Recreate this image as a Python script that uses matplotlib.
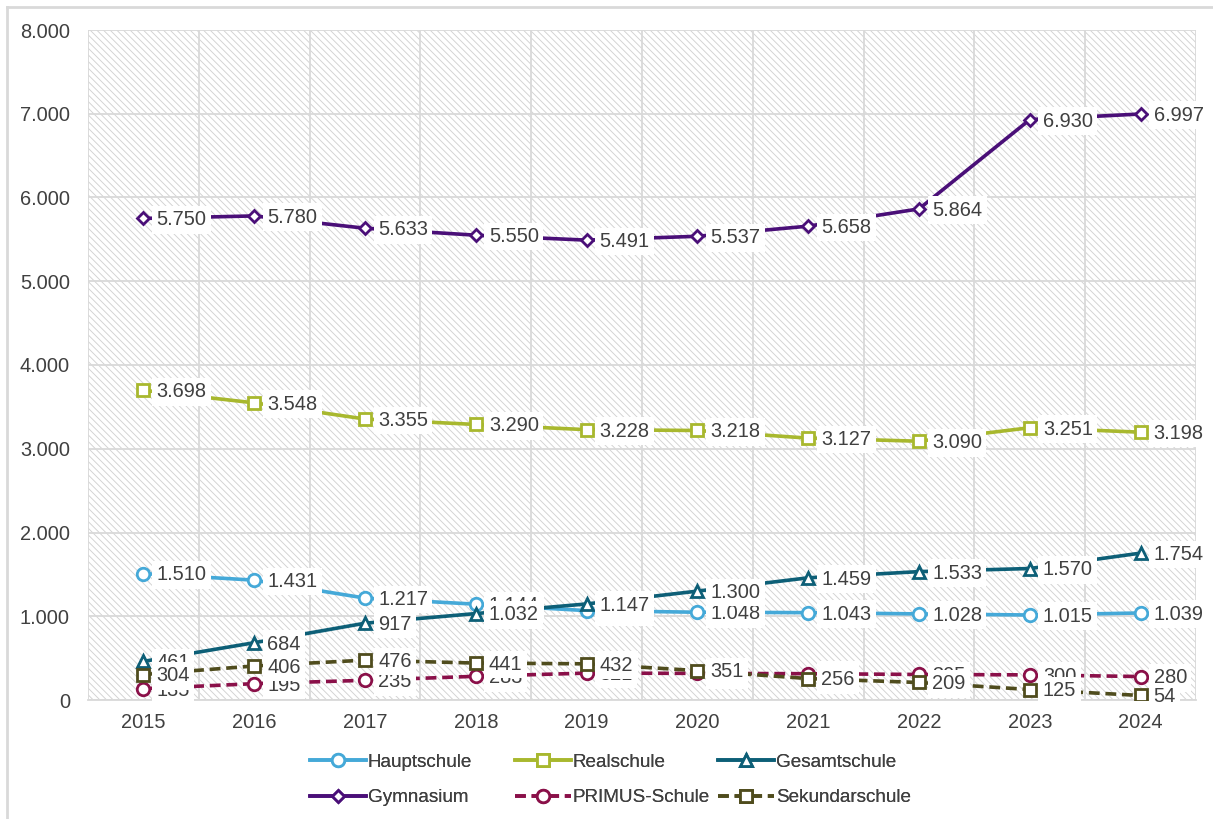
import matplotlib
matplotlib.use("Agg")
import matplotlib.pyplot as plt
from matplotlib.patches import Rectangle
from matplotlib.lines import Line2D

plt.rcParams['font.family'] = ['Liberation Sans', 'DejaVu Sans']
plt.rcParams['hatch.linewidth'] = 0.65
plt.rcParams['hatch.color'] = '#d2d2d2'

years = [2015, 2016, 2017, 2018, 2019, 2020, 2021, 2022, 2023, 2024]

hauptschule = [1510, 1431, 1217, 1144, 1067, 1048, 1043, 1028, 1015, 1039]
realschule = [3698, 3548, 3355, 3290, 3228, 3218, 3127, 3090, 3251, 3198]
gesamtschule = [461, 684, 917, 1032, 1147, 1300, 1459, 1533, 1570, 1754]
gymnasium = [5750, 5780, 5633, 5550, 5491, 5537, 5658, 5864, 6930, 6997]
primus = [135, 195, 235, 283, 321, 318, 314, 305, 300, 280]
sekundarschule = [304, 406, 476, 441, 432, 351, 256, 209, 125, 54]

series = [
    ("Hauptschule", hauptschule, "#45a9d8", "o", "-"),
    ("Realschule", realschule, "#a8b82e", "s", "-"),
    ("Gesamtschule", gesamtschule, "#0d5f77", "^", "-"),
    ("Gymnasium", gymnasium, "#4a0f78", "D", "-"),
    ("PRIMUS-Schule", primus, "#8a1049", "o", "--"),
    ("Sekundarschule", sekundarschule, "#4f4c1d", "s", "--"),
]

marker_sizes = {"o": 9, "s": 9, "^": 9, "D": 6.5}

text_color = "#404040"
W, H = 1213, 819

fig = plt.figure(figsize=(W / 100, H / 100), dpi=100)
ax = fig.add_axes([88 / W, 1 - 700 / H, 1108 / W, 670 / H])

x = list(range(len(years)))
ax.set_xlim(-0.5, len(years) - 0.5)
ax.set_ylim(0, 8000)

# hatched plot background
bg = Rectangle((0, 0), 1, 1, transform=ax.transAxes, facecolor="white",
               edgecolor="#d2d2d2", hatch="\\\\\\\\\\", linewidth=0, zorder=0)
ax.add_patch(bg)

# grid: horizontal at ticks, vertical between categories
for yv in range(0, 8001, 1000):
    ax.axhline(yv, color="#d9d9d9", lw=1.3, zorder=1)
for xv in range(len(years) + 1):
    ax.axvline(xv - 0.5, color="#d9d9d9", lw=1.3, zorder=1)

handles = {}
for name, vals, color, mk, ls in series:
    (ln,) = ax.plot(x, vals, color=color, lw=2.6, ls=ls,
                    marker=mk, markersize=marker_sizes[mk], markerfacecolor="white",
                    markeredgecolor=color, markeredgewidth=2, zorder=3, label=name)
    if ls == "--":
        ln.set_dashes((3, 1.6))
    handles[name] = ln

# value labels on white boxes, drawn above all lines
z = 10
for name, vals, color, mk, ls in series:
    for xi, v in zip(x, vals):
        ax.annotate(f"{v:,}".replace(",", "."), (xi, v), xytext=(9.4, -1),
                    textcoords="offset points", ha="left", va="center",
                    fontsize=14.4, color=text_color, zorder=z,
                    bbox=dict(boxstyle="square,pad=0.22", fc="white", ec="none"))
    z += 1

ax.set_xticks(x)
ax.set_xticklabels([str(y) for y in years])
ax.set_yticks(range(0, 8001, 1000))
ax.set_yticklabels([f"{v:,}".replace(",", ".") for v in range(0, 8001, 1000)])
ax.tick_params(axis="both", length=0, labelsize=14.4, colors=text_color)
ax.tick_params(axis="x", pad=9)
ax.tick_params(axis="y", pad=13)
for s in ax.spines.values():
    s.set_visible(False)
ax.spines["bottom"].set_visible(True)
ax.spines["bottom"].set_color("#d9d9d9")
ax.spines["bottom"].set_linewidth(1.3)

# legend: three equal-width columns of two entries each
columns = [("Hauptschule", "Gymnasium"), ("Realschule", "PRIMUS-Schule"),
           ("Gesamtschule", "Sekundarschule")]
col_left = [310, 515, 718]
for names, left in zip(columns, col_left):
    leg = fig.legend([handles[n] for n in names], names, loc="center left",
                     bbox_to_anchor=(left / W, 1 - 780 / H), frameon=False, fontsize=13.6,
                     handlelength=2.95, handletextpad=0.1, labelspacing=0.95,
                     borderpad=0, borderaxespad=0, labelcolor=text_color)
    fig.add_artist(leg)

# outer frame (top and left edges)
fig.add_artist(Line2D([7 / W, 7 / W], [0, 1 - 7 / H], transform=fig.transFigure,
                      color="#d9d9d9", lw=2))
fig.add_artist(Line2D([7 / W, 1], [1 - 7 / H, 1 - 7 / H], transform=fig.transFigure,
                      color="#d9d9d9", lw=2))

fig.savefig("out.png", dpi=100)
